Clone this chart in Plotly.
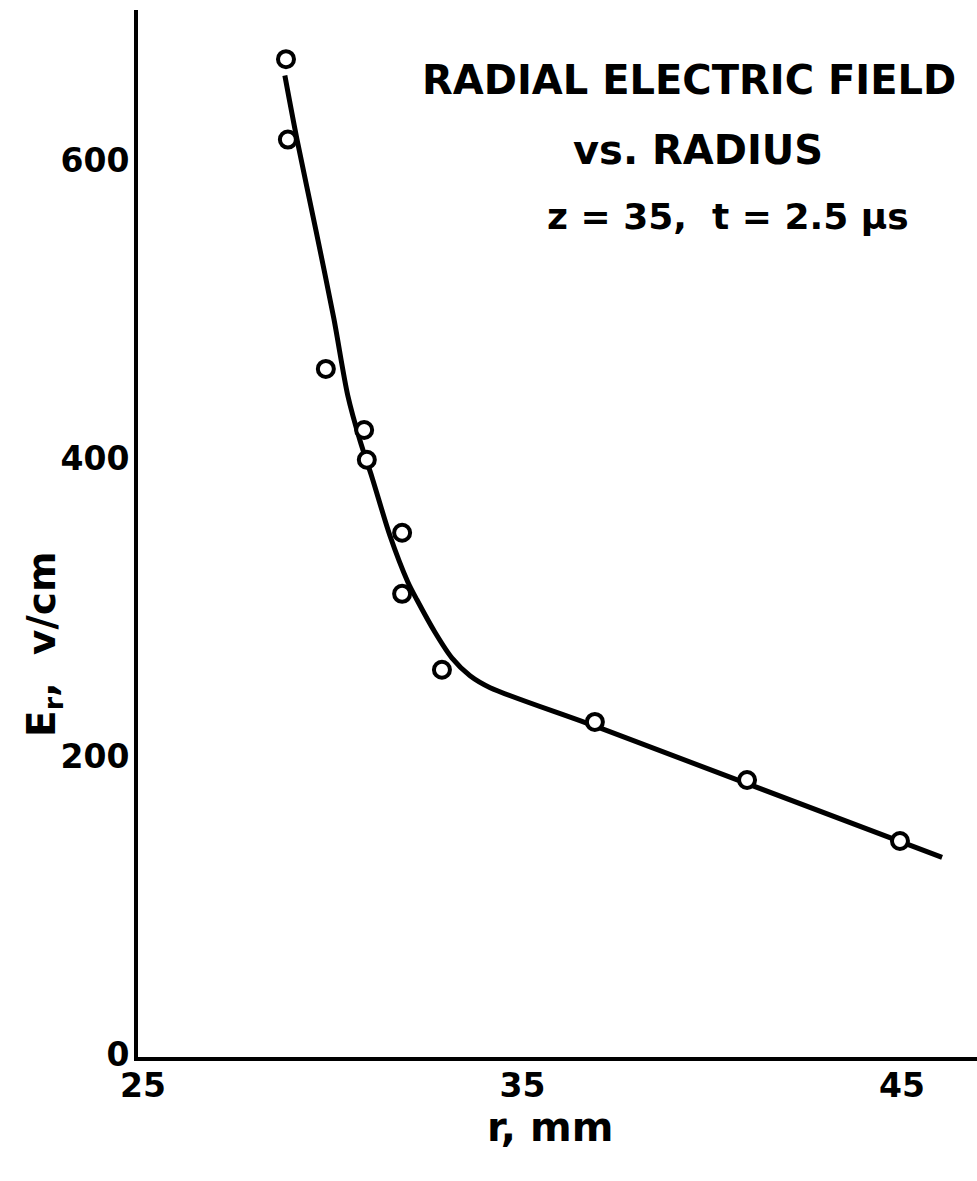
import plotly.graph_objects as go

# Measured radial field values
r_mm = [28.90, 28.95, 29.95, 30.96, 31.03, 31.96, 31.96, 33.01, 37.04, 41.05, 45.08]
er_vcm = [670, 616, 462, 421, 401, 352, 311, 260, 225, 186, 145]

# Smooth curve drawn through the measurements
r_fit = [28.87, 29.19, 29.69, 30.16, 30.53, 30.85, 31.17, 31.64, 32.11, 32.35,
         32.83, 33.27, 33.75, 34.28, 37.17, 46.19]
er_fit = [659, 616, 555, 496, 444, 414, 389, 350, 319, 307,
          285, 268, 256, 248, 221, 134]

x_ticks = [25, 35, 45]
y_ticks = [0, 200, 400, 600]

FONT = "DejaVu Sans"

fig = go.Figure()
fig.add_trace(go.Scatter(
    x=r_fit, y=er_fit, mode="lines",
    line=dict(color="black", width=5, shape="spline", smoothing=0.8),
    hoverinfo="skip", showlegend=False,
))
fig.add_trace(go.Scatter(
    x=r_mm, y=er_vcm, mode="markers",
    marker=dict(symbol="circle", size=16, color="white",
                line=dict(color="black", width=4)),
    showlegend=False,
))

fig.update_layout(
    width=977, height=1181,
    margin=dict(l=138, r=0, t=10, b=124),
    paper_bgcolor="white", plot_bgcolor="white",
    font=dict(family=FONT, color="black", size=33, weight="bold"),
    xaxis=dict(
        range=[25, 47.11], tickvals=x_ticks, ticktext=[str(v) for v in x_ticks],
        showgrid=False, zeroline=False, ticks="",
        showline=True, linecolor="black", linewidth=4,
        ticklabelstandoff=-4, ticklabelshift=5,
        tickfont=dict(family=FONT, size=33, weight="bold"),
    ),
    yaxis=dict(
        range=[0, 703], tickvals=y_ticks, ticktext=[str(v) for v in y_ticks],
        showgrid=False, zeroline=False, ticks="",
        showline=True, linecolor="black", linewidth=4,
        ticklabelstandoff=-2, ticklabelshift=-3,
        tickfont=dict(family=FONT, size=33, weight="bold"),
    ),
)

plot_w, plot_h, left, top = 839, 1047, 138, 10


def paper_xy(px, py):
    return (px - left) / plot_w, 1 - (py - top) / plot_h


# Axis titles
ax, ay = paper_xy(550, 1127)
fig.add_annotation(
    xref="paper", yref="paper", x=ax, y=ay, text="r, mm", showarrow=False,
    xanchor="center", yanchor="middle",
    font=dict(family=FONT, size=40, weight="bold"),
)
ax, ay = paper_xy(44, 644)
fig.add_annotation(
    xref="paper", yref="paper", x=ax, y=ay,
    text="E<sub>r</sub>,  v/cm", textangle=-90, showarrow=False,
    font=dict(family=FONT, size=39, weight="bold"),
    xanchor="center", yanchor="middle",
)

# Title block in the upper right
title_lines = [
    ("RADIAL ELECTRIC FIELD", 689, 80, 40),
    ("vs. RADIUS", 698, 150, 40),
    ("z = 35,  t = 2.5 μs", 728, 216, 36),
]
for text, px, py, size in title_lines:
    tx, ty = paper_xy(px, py)
    fig.add_annotation(
        xref="paper", yref="paper", x=tx, y=ty,
        text=text, showarrow=False, xanchor="center", yanchor="middle",
        font=dict(family=FONT, size=size, weight="bold"),
    )

fig.write_html("out.html")
